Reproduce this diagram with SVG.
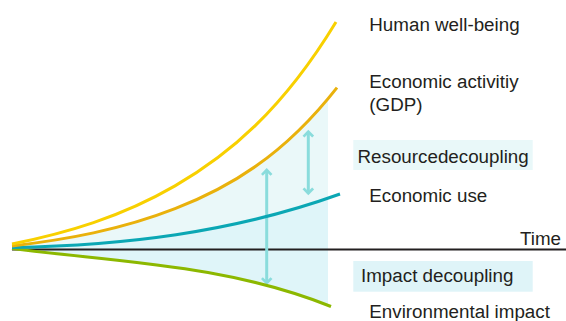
<svg xmlns="http://www.w3.org/2000/svg" width="566" height="321" viewBox="0 0 566 321">
  <style>
    .lbl { font-family: "Liberation Sans", Arial, sans-serif; font-size: 18.8px; fill: #231f20; }
    .curve { fill: none; stroke-width: 3; stroke-linecap: butt; }
    .arrow { stroke: #8adcdc; stroke-width: 3; fill: none; marker-start: url(#head); marker-end: url(#head); }
  </style>
  <defs>
    <clipPath id="clipShade">
      <rect x="0" y="0" width="328" height="321"/>
    </clipPath>
    <marker id="head" markerUnits="userSpaceOnUse" viewBox="0 0 12 12" markerWidth="12" markerHeight="12" refX="9.5" refY="6" orient="auto-start-reverse">
      <path d="M4.6,1.2 L9.5,6 L4.6,10.8" fill="none" stroke="#8adcdc" stroke-width="2.7"/>
    </marker>
  </defs>
  <rect width="566" height="321" fill="#ffffff"/>

  <g id="shading" clip-path="url(#clipShade)">
    <path d="M12,246 C66.33,239.53 120.67,229.94 175,208.7 C229,187.6 283,156.5 337,87.6 L340,194 C230.7,233.4 121.3,245.3 12,247.5 Z" fill="#eaf8f9"/>
    <path d="M12,247.5 C121.3,245.3 230.7,233.4 340,194 L331,306.5 C224.7,264 118.3,262.3 12,248.5 Z" fill="#dff5f9"/>
  </g>

  <g id="axis">
    <line x1="12" y1="249.5" x2="566" y2="249.5" stroke="#231f20" stroke-width="2"/>
    <text class="lbl" x="561" y="245" text-anchor="end">Time</text>
  </g>

  <g id="connectors">
    <line class="arrow" x1="308.3" y1="131.7" x2="308.3" y2="193.3"/>
    <line class="arrow" x1="266.7" y1="170" x2="266.7" y2="283"/>
  </g>

  <g id="resource-decoupling">
    <rect x="353.3" y="140" width="179.4" height="30" fill="#e9f8f9"/>
    <text class="lbl" x="357.5" y="162.5">Resourcedecoupling</text>
  </g>

  <g id="impact-decoupling">
    <rect x="353.3" y="261" width="179.4" height="30.7" fill="#dff4f8"/>
    <text class="lbl" x="361" y="281.7">Impact decoupling</text>
  </g>

  <g id="environmental-impact">
    <path class="curve" stroke="#8cb800" d="M12,248.5 C118.3,262.3 224.7,264 331,306.5"/>
    <text class="lbl" x="369.3" y="318.3">Environmental impact</text>
  </g>

  <g id="economic-use">
    <path class="curve" stroke="#0ba7b4" d="M12,247.5 C121.3,245.3 230.7,233.4 340,194"/>
    <text class="lbl" x="369.3" y="201.7">Economic use</text>
  </g>

  <g id="economic-activity">
    <path class="curve" stroke="#e9b10c" d="M12,246 C66.33,239.53 120.67,229.94 175,208.7 C229,187.6 283,156.5 337,87.6"/>
    <text class="lbl" x="369.3" y="88.3">Economic activitiy</text>
    <text class="lbl" x="369.3" y="110.5">(GDP)</text>
  </g>

  <g id="human-well-being">
    <path class="curve" stroke="#f8d000" d="M12,244 C66.33,233.13 120.67,217.3 175,185.9 C228.67,154.9 282.33,110.3 336,22"/>
    <text class="lbl" x="369.3" y="31">Human well-being</text>
  </g>
</svg>
